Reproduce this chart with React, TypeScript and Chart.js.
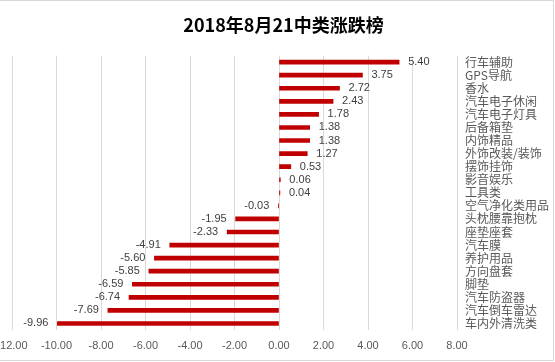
import React, { useEffect, useRef } from "react";
import { Chart, registerables } from "chart.js";

Chart.register(...registerables);

const titleText = "2018年8月21中类涨跌榜";
const categories = [
  "行车辅助",
  "GPS导航",
  "香水",
  "汽车电子休闲",
  "汽车电子灯具",
  "后备箱垫",
  "内饰精品",
  "外饰改装/装饰",
  "摆饰挂饰",
  "影音娱乐",
  "工具类",
  "空气净化类用品",
  "头枕腰靠抱枕",
  "座垫座套",
  "汽车膜",
  "养护用品",
  "方向盘套",
  "脚垫",
  "汽车防盗器",
  "汽车倒车雷达",
  "车内外清洗类",
];
const values = [
  5.4, 3.75, 2.72, 2.43, 1.78, 1.38, 1.38, 1.27, 0.53, 0.06, 0.04, -0.03, -1.95,
  -2.33, -4.91, -5.6, -5.85, -6.59, -6.74, -7.69, -9.96,
];
const xMin = -12;
const xMax = 8;
const xStep = 2;

const CANVAS_OFFSET = 30;
const CANVAS_W = 585;
const CANVAS_H = 362;

const valueLabels = {
  id: "valueLabels",
  afterDatasetsDraw(chart: any) {
    const ctx = chart.ctx;
    const meta = chart.getDatasetMeta(0);
    ctx.save();
    ctx.font = "11px 'Liberation Sans', Arial, sans-serif";
    ctx.fillStyle = "#404040";
    ctx.textBaseline = "middle";
    meta.data.forEach((el: any, i: number) => {
      const v = values[i];
      const txt = v.toFixed(2);
      if (v >= 0) {
        ctx.textAlign = "left";
        ctx.fillText(txt, el.x + 9, el.y);
      } else {
        ctx.textAlign = "right";
        ctx.fillText(txt, el.x - 9, el.y);
      }
    });
    ctx.restore();
  },
};

export default function App() {
  const ref = useRef<HTMLCanvasElement | null>(null);

  useEffect(() => {
    if (!ref.current) return;
    const chart = new Chart(ref.current, {
      type: "bar",
      data: {
        labels: categories,
        datasets: [
          {
            data: values,
            backgroundColor: "#C00000",
            borderWidth: 0,
            barThickness: 4,
          },
        ],
      },
      options: {
        indexAxis: "y",
        animation: false,
        responsive: false,
        maintainAspectRatio: false,
        devicePixelRatio: 1,
        layout: { padding: { left: 42, right: 0, top: 0, bottom: 0 } },
        plugins: {
          legend: { display: false },
          tooltip: { enabled: false },
          title: {
            display: true,
            text: titleText,
            color: "#000000",
            font: { family: "'Noto Sans CJK SC', sans-serif", size: 18, weight: "bold" },
            padding: { top: 14, bottom: 20 },
          },
        },
        scales: {
          x: {
            type: "linear",
            min: xMin,
            max: xMax,
            ticks: {
              stepSize: xStep,
              callback: (v: any) => Number(v).toFixed(2),
              color: "#595959",
              font: { family: "'Liberation Sans', Arial, sans-serif", size: 11 },
              padding: 9,
              maxRotation: 0,
            },
            grid: { color: "#d9d9d9", drawTicks: false, lineWidth: 1 },
            border: { display: false },
            afterFit: (s: any) => {
              s.height = 32;
            },
          },
          y: {
            position: "right",
            ticks: {
              autoSkip: false,
              color: "#595959",
              font: { family: "'Noto Sans CJK SC', sans-serif", size: 12 },
              padding: 8,
            },
            grid: { display: false, drawTicks: false },
            border: { display: false },
            afterFit: (s: any) => {
              s.width = 98;
            },
          },
        },
      },
      plugins: [valueLabels],
    });
    return () => chart.destroy();
  }, []);

  return (
    <div
      style={{
        position: "absolute",
        left: 0,
        top: 0,
        width: 555,
        height: 362,
        overflow: "hidden",
        background: "#ffffff",
      }}
    >
      <canvas
        ref={ref}
        width={CANVAS_W}
        height={CANVAS_H}
        style={{ position: "absolute", left: -CANVAS_OFFSET, top: 0, width: CANVAS_W, height: CANVAS_H }}
      />
      <div
        style={{
          position: "absolute",
          left: -1,
          top: 0,
          width: 555,
          height: 361,
          border: "1px solid #d9d9d9",
          boxSizing: "border-box",
          pointerEvents: "none",
        }}
      />
    </div>
  );
}
